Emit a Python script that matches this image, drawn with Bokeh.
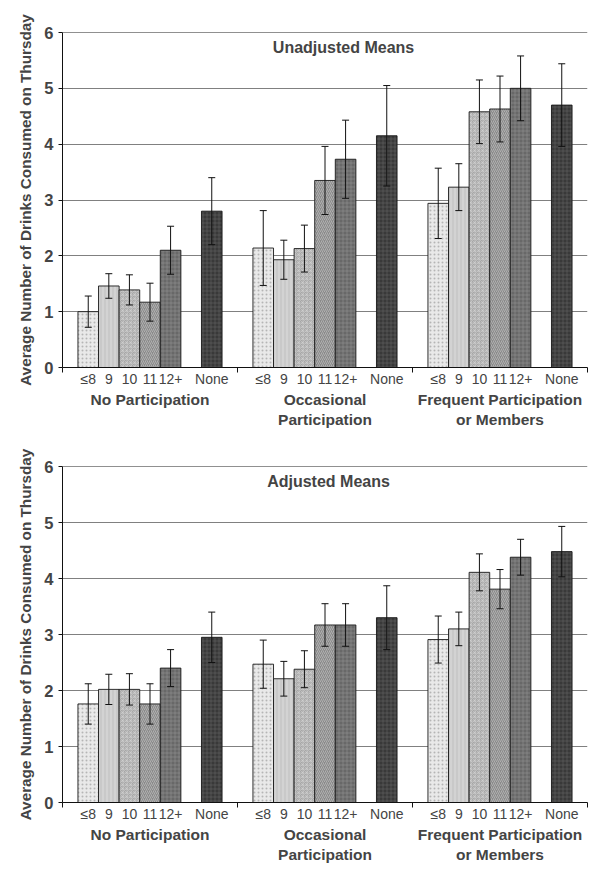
from bokeh.plotting import figure
from bokeh.models import (ColumnDataSource, Whisker, TeeHead, FixedTicker, LinearAxis,
                          Span, Label)
from bokeh.layouts import column
from bokeh.embed import file_html
from bokeh.resources import INLINE

# ---------------- data ----------------
groups = ["No Participation", "Occasional\nParticipation", "Frequent Participation\nor Members"]
categories = ["≤8", "9", "10", "11", "12+", "None"]
y_ticks = [0, 1, 2, 3, 4, 5, 6]

unadj_no = [1.00, 1.46, 1.39, 1.17, 2.10, 2.80]
unadj_no_err = [0.28, 0.22, 0.27, 0.34, 0.43, 0.60]
unadj_occ = [2.14, 1.93, 2.13, 3.35, 3.73, 4.15]
unadj_occ_err = [0.67, 0.35, 0.42, 0.61, 0.70, 0.90]
unadj_freq = [2.94, 3.23, 4.58, 4.63, 5.00, 4.70]
unadj_freq_err = [0.63, 0.42, 0.57, 0.59, 0.58, 0.74]

adj_no = [1.76, 2.02, 2.02, 1.76, 2.40, 2.95]
adj_no_err = [0.36, 0.27, 0.28, 0.36, 0.33, 0.45]
adj_occ = [2.47, 2.21, 2.38, 3.17, 3.17, 3.30]
adj_occ_err = [0.43, 0.31, 0.33, 0.38, 0.38, 0.57]
adj_freq = [2.91, 3.10, 4.11, 3.81, 4.38, 4.48]
adj_freq_err = [0.42, 0.30, 0.33, 0.35, 0.32, 0.45]

# ---------------- styles ----------------
FONT = "Liberation Sans"
fills = ["#e9e9e9", "#c9c9c9", "#a6a6a6", "#8a8a8a", "#686868", "#393939"]
hatches = ["dot", "vertical_line", "criss_cross", "right_diagonal_line", "cross", "cross"]
hatch_colors = ["#a0a0a0", "#ededed", "#d2d2d2", "#cfcfcf", "#949494", "#646464"]

GROUP_W = 8.5


def xpos(g, i):
    slot = i if i < 5 else 6
    return GROUP_W * g + 0.75 + slot + 0.5


def make_chart(title, title_x, means, errs, height, top_b, bottom_b):
    p = figure(width=598, height=height, x_range=(0, 3 * GROUP_W), y_range=(0, 6),
               output_backend="svg", toolbar_location=None,
               min_border_left=62, min_border_right=11,
               min_border_top=top_b, min_border_bottom=bottom_b)
    p.outline_line_color = None
    p.xgrid.visible = False
    p.ygrid.ticker = FixedTicker(ticks=y_ticks[1:6])
    p.ygrid.grid_line_color = "#808080"
    p.ygrid.grid_line_width = 1
    p.add_layout(Span(location=6, dimension="width", line_color="#222222", line_width=1.2))

    # bars
    for i, cat in enumerate(categories):
        xs = [xpos(g, i) for g in range(3)]
        tops = [means[g][i] for g in range(3)]
        p.vbar(x=xs, top=tops, bottom=0, width=1.0, fill_color=fills[i],
               line_color="#1a1a1a", line_width=0.9,
               hatch_pattern=hatches[i], hatch_color=hatch_colors[i],
               hatch_scale=4, hatch_weight=0.8, hatch_alpha=0.7)

    # error bars
    bx, up, lo = [], [], []
    for g in range(3):
        for i in range(6):
            bx.append(xpos(g, i))
            up.append(means[g][i] + errs[g][i])
            lo.append(means[g][i] - errs[g][i])
    src = ColumnDataSource(dict(x=bx, up=up, lo=lo))
    w = Whisker(base="x", upper="up", lower="lo", source=src, level="annotation",
                line_color="#111111", line_width=1,
                upper_head=TeeHead(size=7, line_color="#111111", line_width=1),
                lower_head=TeeHead(size=7, line_color="#111111", line_width=1))
    p.add_layout(w)

    # y axis
    ya = p.yaxis[0]
    ya.ticker = FixedTicker(ticks=y_ticks)
    ya.axis_label = "Average Number of Drinks Consumed on Thursday"
    ya.axis_label_text_font = FONT
    ya.axis_label_text_font_style = "bold"
    ya.axis_label_text_font_size = "15.3px"
    ya.axis_label_standoff = 7
    ya.major_label_text_font = FONT
    ya.major_label_text_font_style = "bold"
    ya.major_label_text_font_size = "16.5px"
    ya.major_label_standoff = 5
    ya.major_tick_in = 0
    ya.major_tick_out = 4
    ya.minor_tick_line_color = None
    ya.axis_line_color = "#111111"
    ya.major_tick_line_color = "#111111"

    # x axis: category labels, separators as minor ticks
    centers = [xpos(g, i) for g in range(3) for i in range(6)]
    xa = p.xaxis[0]
    xa.ticker = FixedTicker(ticks=centers, minor_ticks=[0, GROUP_W, 2 * GROUP_W, 3 * GROUP_W])
    xa.major_label_overrides = {c: categories[k % 6] for k, c in enumerate(centers)}
    xa.major_tick_in = 0
    xa.major_tick_out = 0
    xa.minor_tick_in = 0
    xa.minor_tick_out = 5
    xa.minor_tick_line_color = "#111111"
    xa.axis_line_color = "#111111"
    xa.major_label_text_font = FONT
    xa.major_label_text_font_size = "14px"
    xa.major_label_standoff = -2

    # group labels on a second, line-less axis
    gc = [GROUP_W * g + GROUP_W / 2 for g in range(3)]
    ga = LinearAxis(ticker=FixedTicker(ticks=gc, minor_ticks=[]),
                    major_label_overrides={c: groups[g] for g, c in enumerate(gc)})
    ga.axis_line_color = None
    ga.major_tick_line_color = None
    ga.minor_tick_line_color = None
    ga.major_tick_in = 0
    ga.major_tick_out = 0
    ga.minor_tick_in = 0
    ga.minor_tick_out = 0
    ga.major_label_text_font = FONT
    ga.major_label_text_font_style = "bold"
    ga.major_label_text_font_size = "15.5px"
    ga.major_label_text_line_height = 1.2
    ga.major_label_standoff = 1
    p.add_layout(ga, "below")

    p.add_layout(Label(x=title_x, y=5.74, text=title, text_align="center", text_baseline="middle",
                       text_font=FONT, text_font_style="bold", text_font_size="16px"))
    return p


top = make_chart("Unadjusted Means", 13.65,
                 [unadj_no, unadj_occ, unadj_freq],
                 [unadj_no_err, unadj_occ_err, unadj_freq_err], 430, 32, 62)
bottom = make_chart("Adjusted Means", 12.92,
                    [adj_no, adj_occ, adj_freq],
                    [adj_no_err, adj_occ_err, adj_freq_err], 441, 36, 69)

layout = column(top, bottom, spacing=0)
open("out.html", "w").write(file_html(layout, INLINE))
